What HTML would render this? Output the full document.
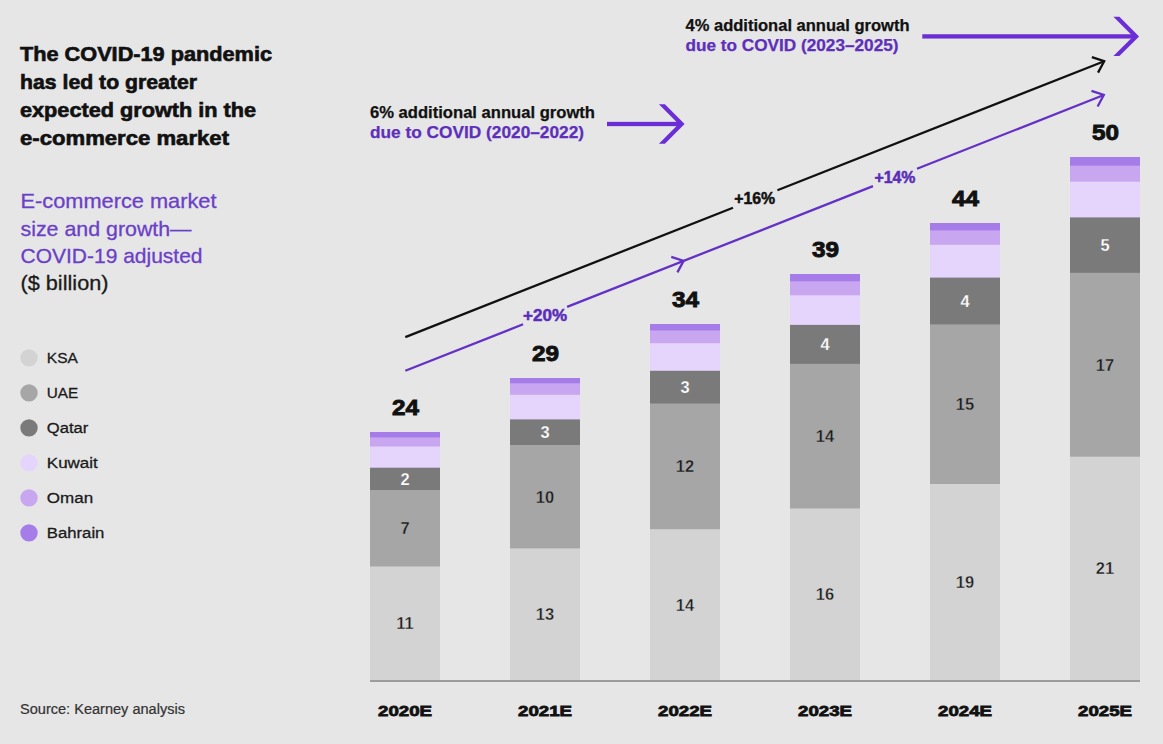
<!DOCTYPE html>
<html><head><meta charset="utf-8"><title>E-commerce market size and growth</title>
<style>
html,body{margin:0;padding:0;background:#e6e6e6;}
body{width:1163px;height:744px;overflow:hidden;}
svg text{font-family:'Liberation Sans', sans-serif;}
</style></head><body>
<svg width="1163" height="744" viewBox="0 0 1163 744" style="display:block">
<rect x="0" y="0" width="1163" height="744" fill="#e6e6e6"/>
<rect x="370" y="432" width="70" height="248" fill="#a67ce8"/>
<rect x="370" y="437.4" width="70" height="242.6" fill="#c8a6f0"/>
<rect x="370" y="446.5" width="70" height="233.5" fill="#e5d4fb"/>
<rect x="370" y="467.7" width="70" height="212.3" fill="#7a7a7a"/>
<rect x="370" y="490" width="70" height="190" fill="#a6a6a6"/>
<rect x="370" y="566.5" width="70" height="113.5" fill="#d3d3d3"/>
<rect x="510" y="378" width="70" height="302" fill="#a67ce8"/>
<rect x="510" y="383.3" width="70" height="296.7" fill="#c8a6f0"/>
<rect x="510" y="394.8" width="70" height="285.2" fill="#e5d4fb"/>
<rect x="510" y="419.4" width="70" height="260.6" fill="#7a7a7a"/>
<rect x="510" y="445" width="70" height="235" fill="#a6a6a6"/>
<rect x="510" y="548.4" width="70" height="131.6" fill="#d3d3d3"/>
<rect x="650" y="324" width="70" height="356" fill="#a67ce8"/>
<rect x="650" y="330.5" width="70" height="349.5" fill="#c8a6f0"/>
<rect x="650" y="343.2" width="70" height="336.8" fill="#e5d4fb"/>
<rect x="650" y="370.8" width="70" height="309.2" fill="#7a7a7a"/>
<rect x="650" y="403.5" width="70" height="276.5" fill="#a6a6a6"/>
<rect x="650" y="529.2" width="70" height="150.8" fill="#d3d3d3"/>
<rect x="790" y="274" width="70" height="406" fill="#a67ce8"/>
<rect x="790" y="281.3" width="70" height="398.7" fill="#c8a6f0"/>
<rect x="790" y="295.3" width="70" height="384.7" fill="#e5d4fb"/>
<rect x="790" y="324.9" width="70" height="355.1" fill="#7a7a7a"/>
<rect x="790" y="363.8" width="70" height="316.2" fill="#a6a6a6"/>
<rect x="790" y="508.5" width="70" height="171.5" fill="#d3d3d3"/>
<rect x="930" y="223" width="70" height="457" fill="#a67ce8"/>
<rect x="930" y="230.4" width="70" height="449.6" fill="#c8a6f0"/>
<rect x="930" y="244.8" width="70" height="435.2" fill="#e5d4fb"/>
<rect x="930" y="277.6" width="70" height="402.4" fill="#7a7a7a"/>
<rect x="930" y="324.4" width="70" height="355.6" fill="#a6a6a6"/>
<rect x="930" y="484" width="70" height="196" fill="#d3d3d3"/>
<rect x="1070" y="157" width="70" height="523" fill="#a67ce8"/>
<rect x="1070" y="165.7" width="70" height="514.3" fill="#c8a6f0"/>
<rect x="1070" y="181.7" width="70" height="498.3" fill="#e5d4fb"/>
<rect x="1070" y="217.4" width="70" height="462.6" fill="#7a7a7a"/>
<rect x="1070" y="272.8" width="70" height="407.2" fill="#a6a6a6"/>
<rect x="1070" y="456.7" width="70" height="223.3" fill="#d3d3d3"/>
<rect x="370" y="680" width="770" height="2" fill="#9c9c9c"/>
<text x="405.0" y="484.85" text-anchor="middle" font-size="16.5" font-weight="700" fill="#ffffff" stroke="#7a7a7a" stroke-width="0.25">2</text>
<text x="405.0" y="534.25" text-anchor="middle" font-size="16.5" font-weight="700" fill="#1a1a1a" stroke="#a6a6a6" stroke-width="0.4">7</text>
<text x="405.0" y="629.25" text-anchor="middle" font-size="16.5" font-weight="700" fill="#1a1a1a" stroke="#d3d3d3" stroke-width="0.4">11</text>
<text x="405.5" y="415" text-anchor="middle" font-size="22" font-weight="700" fill="#111111" stroke="#111111" stroke-width="0.9" lengthAdjust="spacingAndGlyphs" textLength="27">24</text>
<text x="405.0" y="716.3" text-anchor="middle" font-size="15.5" font-weight="700" fill="#111111" stroke="#111111" stroke-width="0.8" lengthAdjust="spacingAndGlyphs" textLength="54">2020E</text>
<text x="545.0" y="438.2" text-anchor="middle" font-size="16.5" font-weight="700" fill="#ffffff" stroke="#7a7a7a" stroke-width="0.25">3</text>
<text x="545.0" y="502.7" text-anchor="middle" font-size="16.5" font-weight="700" fill="#1a1a1a" stroke="#a6a6a6" stroke-width="0.4">10</text>
<text x="545.0" y="620.2" text-anchor="middle" font-size="16.5" font-weight="700" fill="#1a1a1a" stroke="#d3d3d3" stroke-width="0.4">13</text>
<text x="545.5" y="361" text-anchor="middle" font-size="22" font-weight="700" fill="#111111" stroke="#111111" stroke-width="0.9" lengthAdjust="spacingAndGlyphs" textLength="27">29</text>
<text x="545.0" y="716.3" text-anchor="middle" font-size="15.5" font-weight="700" fill="#111111" stroke="#111111" stroke-width="0.8" lengthAdjust="spacingAndGlyphs" textLength="54">2021E</text>
<text x="685.0" y="393.15" text-anchor="middle" font-size="16.5" font-weight="700" fill="#ffffff" stroke="#7a7a7a" stroke-width="0.25">3</text>
<text x="685.0" y="472.35" text-anchor="middle" font-size="16.5" font-weight="700" fill="#1a1a1a" stroke="#a6a6a6" stroke-width="0.4">12</text>
<text x="685.0" y="610.6" text-anchor="middle" font-size="16.5" font-weight="700" fill="#1a1a1a" stroke="#d3d3d3" stroke-width="0.4">14</text>
<text x="685.5" y="307" text-anchor="middle" font-size="22" font-weight="700" fill="#111111" stroke="#111111" stroke-width="0.9" lengthAdjust="spacingAndGlyphs" textLength="27">34</text>
<text x="685.0" y="716.3" text-anchor="middle" font-size="15.5" font-weight="700" fill="#111111" stroke="#111111" stroke-width="0.8" lengthAdjust="spacingAndGlyphs" textLength="54">2022E</text>
<text x="825.0" y="350.35" text-anchor="middle" font-size="16.5" font-weight="700" fill="#ffffff" stroke="#7a7a7a" stroke-width="0.25">4</text>
<text x="825.0" y="442.15" text-anchor="middle" font-size="16.5" font-weight="700" fill="#1a1a1a" stroke="#a6a6a6" stroke-width="0.4">14</text>
<text x="825.0" y="600.25" text-anchor="middle" font-size="16.5" font-weight="700" fill="#1a1a1a" stroke="#d3d3d3" stroke-width="0.4">16</text>
<text x="825.5" y="257" text-anchor="middle" font-size="22" font-weight="700" fill="#111111" stroke="#111111" stroke-width="0.9" lengthAdjust="spacingAndGlyphs" textLength="27">39</text>
<text x="825.0" y="716.3" text-anchor="middle" font-size="15.5" font-weight="700" fill="#111111" stroke="#111111" stroke-width="0.8" lengthAdjust="spacingAndGlyphs" textLength="54">2023E</text>
<text x="965.0" y="307.0" text-anchor="middle" font-size="16.5" font-weight="700" fill="#ffffff" stroke="#7a7a7a" stroke-width="0.25">4</text>
<text x="965.0" y="410.2" text-anchor="middle" font-size="16.5" font-weight="700" fill="#1a1a1a" stroke="#a6a6a6" stroke-width="0.4">15</text>
<text x="965.0" y="588.0" text-anchor="middle" font-size="16.5" font-weight="700" fill="#1a1a1a" stroke="#d3d3d3" stroke-width="0.4">19</text>
<text x="965.5" y="206" text-anchor="middle" font-size="22" font-weight="700" fill="#111111" stroke="#111111" stroke-width="0.9" lengthAdjust="spacingAndGlyphs" textLength="27">44</text>
<text x="965.0" y="716.3" text-anchor="middle" font-size="15.5" font-weight="700" fill="#111111" stroke="#111111" stroke-width="0.8" lengthAdjust="spacingAndGlyphs" textLength="54">2024E</text>
<text x="1105.0" y="251.1" text-anchor="middle" font-size="16.5" font-weight="700" fill="#ffffff" stroke="#7a7a7a" stroke-width="0.25">5</text>
<text x="1105.0" y="370.75" text-anchor="middle" font-size="16.5" font-weight="700" fill="#1a1a1a" stroke="#a6a6a6" stroke-width="0.4">17</text>
<text x="1105.0" y="574.35" text-anchor="middle" font-size="16.5" font-weight="700" fill="#1a1a1a" stroke="#d3d3d3" stroke-width="0.4">21</text>
<text x="1105.5" y="140" text-anchor="middle" font-size="22" font-weight="700" fill="#111111" stroke="#111111" stroke-width="0.9" lengthAdjust="spacingAndGlyphs" textLength="27">50</text>
<text x="1105.0" y="716.3" text-anchor="middle" font-size="15.5" font-weight="700" fill="#111111" stroke="#111111" stroke-width="0.8" lengthAdjust="spacingAndGlyphs" textLength="54">2025E</text>
<path d="M405.30,337.10 L733.00,207.74 M777.40,190.21 L1104.20,61.20 " stroke="#111111" stroke-width="2.3" fill="none"/>
<path d="M1098.01,72.63 L1104.20,61.20 L1091.87,57.08" stroke="#111111" stroke-width="2.3" fill="none" stroke-linejoin="miter"/>
<path d="M405.30,370.80 L523.10,324.29 M567.10,306.91 L873.00,186.13 M917.00,168.76 L1103.80,95.00 " stroke="#6331c6" stroke-width="2.3" fill="none"/>
<path d="M1097.61,106.43 L1103.80,95.00 L1091.47,90.89" stroke="#6331c6" stroke-width="2.3" fill="none"/>
<path d="M677.41,272.34 L683.60,260.91 L671.27,256.80" stroke="#6331c6" stroke-width="2.3" fill="none"/>
<text x="545.1" y="321.4" text-anchor="middle" font-size="16.3" font-weight="700" fill="#5a2dba" stroke="#5a2dba" stroke-width="0.5" lengthAdjust="spacingAndGlyphs" textLength="44">+20%</text>
<text x="754.7" y="204.4" text-anchor="middle" font-size="16.3" font-weight="700" fill="#111111" stroke="#111111" stroke-width="0.5" lengthAdjust="spacingAndGlyphs" textLength="41">+16%</text>
<text x="894.9" y="182.8" text-anchor="middle" font-size="16.3" font-weight="700" fill="#5a2dba" stroke="#5a2dba" stroke-width="0.5" lengthAdjust="spacingAndGlyphs" textLength="41">+14%</text>
<rect x="607" y="121.85" width="73.60" height="4.3" fill="#6b2dd6"/><polygon points="658.90,104.30 664.90,104.30 684.60,124.00 664.90,143.70 658.90,143.70 678.60,124.00" fill="#6b2dd6"/>
<rect x="922.3" y="34.25" width="212.80" height="4.3" fill="#6b2dd6"/><polygon points="1113.40,16.70 1119.40,16.70 1139.10,36.40 1119.40,56.10 1113.40,56.10 1133.10,36.40" fill="#6b2dd6"/>
<text x="370" y="117.6" font-size="16" font-weight="700" fill="#111111" stroke="#111111" stroke-width="0.25" lengthAdjust="spacingAndGlyphs" textLength="225">6% additional annual growth</text>
<text x="370" y="138.3" font-size="16" font-weight="700" fill="#5d2fbb" stroke="#5d2fbb" stroke-width="0.25" lengthAdjust="spacingAndGlyphs" textLength="214">due to COVID (2020–2022)</text>
<text x="685.5" y="30.6" font-size="16" font-weight="700" fill="#111111" stroke="#111111" stroke-width="0.25" lengthAdjust="spacingAndGlyphs" textLength="224">4% additional annual growth</text>
<text x="685.5" y="51.3" font-size="16" font-weight="700" fill="#5d2fbb" stroke="#5d2fbb" stroke-width="0.25" lengthAdjust="spacingAndGlyphs" textLength="213">due to COVID (2023–2025)</text>
<text x="20" y="61" font-size="21" font-weight="700" fill="#111111" stroke="#111111" stroke-width="0.65" lengthAdjust="spacingAndGlyphs" textLength="252">The COVID-19 pandemic</text>
<text x="20" y="89" font-size="21" font-weight="700" fill="#111111" stroke="#111111" stroke-width="0.65" lengthAdjust="spacingAndGlyphs" textLength="177">has led to greater</text>
<text x="20" y="117.3" font-size="21" font-weight="700" fill="#111111" stroke="#111111" stroke-width="0.65" lengthAdjust="spacingAndGlyphs" textLength="236">expected growth in the</text>
<text x="20" y="145.3" font-size="21" font-weight="700" fill="#111111" stroke="#111111" stroke-width="0.65" lengthAdjust="spacingAndGlyphs" textLength="209">e-commerce market</text>
<text x="20.5" y="208.1" font-size="21" fill="#6a40c8" stroke="#6a40c8" stroke-width="0.3" lengthAdjust="spacingAndGlyphs" textLength="196">E-commerce market</text>
<text x="20.5" y="235.7" font-size="21" fill="#6a40c8" stroke="#6a40c8" stroke-width="0.3" lengthAdjust="spacingAndGlyphs" textLength="171">size and growth—</text>
<text x="20.5" y="263" font-size="21" fill="#6a40c8" stroke="#6a40c8" stroke-width="0.3" lengthAdjust="spacingAndGlyphs" textLength="182">COVID-19 adjusted</text>
<text x="20.5" y="290" font-size="21" fill="#1a1a1a" stroke="#1a1a1a" stroke-width="0.3" lengthAdjust="spacingAndGlyphs" textLength="88">($ billion)</text>
<circle cx="29" cy="357.9" r="8.7" fill="#d3d3d3"/>
<text x="46.8" y="363.4" font-size="15.5" fill="#1a1a1a" stroke="#1a1a1a" stroke-width="0.3" lengthAdjust="spacingAndGlyphs" textLength="31">KSA</text>
<circle cx="29" cy="392.9" r="8.7" fill="#a6a6a6"/>
<text x="46.8" y="398.4" font-size="15.5" fill="#1a1a1a" stroke="#1a1a1a" stroke-width="0.3" lengthAdjust="spacingAndGlyphs" textLength="31.5">UAE</text>
<circle cx="29" cy="427.9" r="8.7" fill="#7a7a7a"/>
<text x="46.8" y="433.4" font-size="15.5" fill="#1a1a1a" stroke="#1a1a1a" stroke-width="0.3" lengthAdjust="spacingAndGlyphs" textLength="41.5">Qatar</text>
<circle cx="29" cy="462.9" r="8.7" fill="#e5d4fb"/>
<text x="46.8" y="468.4" font-size="15.5" fill="#1a1a1a" stroke="#1a1a1a" stroke-width="0.3" lengthAdjust="spacingAndGlyphs" textLength="51">Kuwait</text>
<circle cx="29" cy="497.9" r="8.7" fill="#c8a6f0"/>
<text x="46.8" y="503.4" font-size="15.5" fill="#1a1a1a" stroke="#1a1a1a" stroke-width="0.3" lengthAdjust="spacingAndGlyphs" textLength="46.3">Oman</text>
<circle cx="29" cy="532.9" r="8.7" fill="#a67ce8"/>
<text x="46.8" y="538.4" font-size="15.5" fill="#1a1a1a" stroke="#1a1a1a" stroke-width="0.3" lengthAdjust="spacingAndGlyphs" textLength="57.6">Bahrain</text>
<text x="20" y="713.8" font-size="14" fill="#333333" stroke="#333333" stroke-width="0.2" lengthAdjust="spacingAndGlyphs" textLength="165">Source: Kearney analysis</text>
</svg>
</body></html>
